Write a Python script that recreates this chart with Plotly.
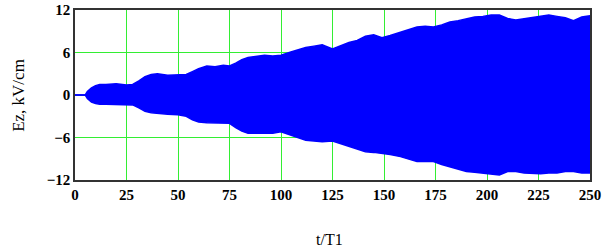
import plotly.graph_objects as go

# Envelope of Ez(t) oscillation
t_vals = [0, 5, 6, 8, 10, 12, 15, 20, 25, 28, 31, 34, 37, 40, 45, 50, 54, 57, 60, 64, 68, 72, 75,
          78, 81, 84, 88, 92, 96, 100, 104, 108, 112, 116, 120, 125, 129, 133, 137, 141, 145, 149,
          153, 158, 162, 166, 170, 174, 178, 182, 186, 190, 194, 198, 202, 206, 210, 214, 218, 222,
          226, 230, 234, 238, 242, 246, 250]
upper_env = [0, 0, 0.5, 1.0, 1.3, 1.5, 1.5, 1.6, 1.4, 1.5, 2.0, 2.6, 2.9, 3.0, 2.8, 2.8, 2.9, 3.3,
             3.7, 4.1, 4.0, 4.2, 4.1, 4.5, 5.0, 5.3, 5.5, 5.6, 5.5, 5.6, 6.0, 6.4, 6.7, 6.9, 7.1, 6.5,
             7.0, 7.4, 7.7, 8.3, 8.5, 8.1, 8.4, 8.9, 9.2, 9.6, 9.7, 9.6, 9.9, 10.3, 10.5, 10.8, 11.0,
             11.1, 11.3, 11.3, 10.8, 10.6, 10.8, 11.0, 11.2, 11.3, 11.1, 10.9, 10.5, 11.0, 11.2]
lower_env = [0, 0, -0.5, -1.0, -1.2, -1.3, -1.3, -1.3, -1.4, -1.4, -1.8, -2.3, -2.5, -2.6, -2.7,
             -2.8, -3.0, -3.5, -3.8, -3.9, -3.9, -3.9, -4.0, -4.6, -5.1, -5.4, -5.4, -5.4, -5.4,
             -5.2, -5.6, -6.1, -6.4, -6.5, -6.6, -6.5, -6.9, -7.3, -7.7, -8.0, -8.1, -8.2, -8.4,
             -8.7, -9.1, -9.4, -9.4, -9.4, -9.8, -10.1, -10.5, -10.8, -10.9, -11.0, -11.1, -11.3,
             -10.8, -10.8, -11.0, -11.1, -11.1, -11.0, -11.0, -10.8, -10.8, -11.0, -11.0]

x_ticks = [0, 25, 50, 75, 100, 125, 150, 175, 200, 225, 250]
y_ticks = [-12, -6, 0, 6, 12]

BLUE = "#0000FF"
GRID = "#33EE33"

fig = go.Figure()
fig.add_trace(go.Scatter(x=t_vals, y=lower_env, mode="lines",
                         line=dict(color=BLUE, width=1.5), showlegend=False, hoverinfo="skip"))
fig.add_trace(go.Scatter(x=t_vals, y=upper_env, mode="lines", fill="tonexty",
                         fillcolor=BLUE, line=dict(color=BLUE, width=1.5),
                         showlegend=False, hoverinfo="skip"))

tick_font = dict(family="Liberation Serif", size=15, color="black", weight="bold")

fig.update_layout(
    width=616, height=250,
    margin=dict(l=75, r=26, t=10, b=70),
    paper_bgcolor="white", plot_bgcolor="white",
    font=dict(family="Liberation Serif", color="black"),
    xaxis=dict(range=[0, 250], tickvals=x_ticks, ticktext=[str(v) for v in x_ticks],
               showgrid=True, gridcolor=GRID, gridwidth=1, zeroline=False,
               showline=True, linecolor="#333333", linewidth=1.5, mirror=True,
               ticks="", tickfont=tick_font, layer="below traces", automargin=False),
    yaxis=dict(range=[-12, 12], tickvals=y_ticks,
               showgrid=True, gridcolor=GRID, gridwidth=1, zeroline=False,
               showline=True, linecolor="#333333", linewidth=1.5, mirror=True,
               ticks="", tickfont=tick_font, layer="below traces", automargin=False),
    annotations=[
        dict(text="t/T1", xref="paper", yref="paper", x=0.495, y=-0.35,
             xanchor="center", yanchor="middle", showarrow=False,
             font=dict(family="Liberation Serif", size=16, color="black")),
        dict(text="Ez, kV/cm", xref="paper", yref="paper", x=-0.111, y=0.5,
             xanchor="center", yanchor="middle", showarrow=False, textangle=-90,
             font=dict(family="Liberation Serif", size=17, color="black")),
    ],
)

fig.write_html("out.html", config={"displayModeBar": False},
               post_script="document.body.style.margin='0';")
